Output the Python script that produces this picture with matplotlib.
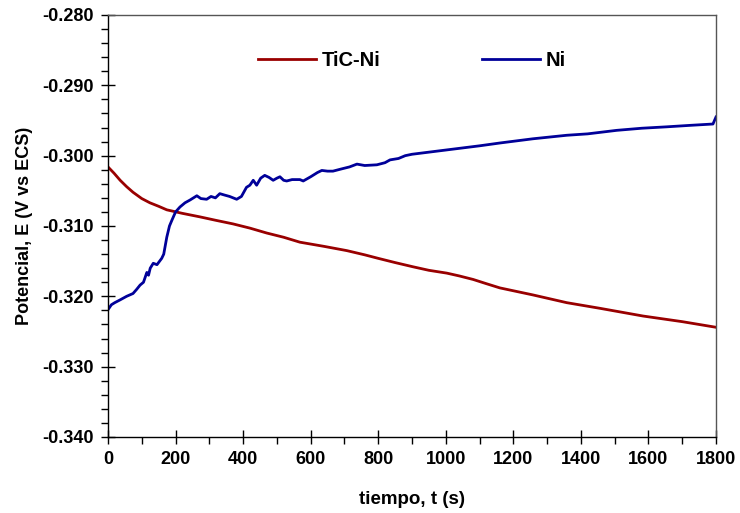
import matplotlib
matplotlib.use("Agg")
import matplotlib.pyplot as plt
from matplotlib.ticker import MultipleLocator, FormatStrFormatter

# Open circuit potential vs time
t_ticni = [0, 18, 36, 55, 74, 100, 124, 150, 174, 220, 272, 320, 370, 420, 470,
           520, 568, 640, 707, 760, 800, 850, 903, 950, 1003, 1040, 1081, 1120,
           1160, 1258, 1358, 1456, 1584, 1700, 1800]
e_ticni = [-0.3016, -0.3025, -0.3035, -0.3044, -0.3052, -0.3061, -0.3067, -0.3072,
           -0.3077, -0.3082, -0.3087, -0.3092, -0.3097, -0.3103, -0.3110, -0.3116,
           -0.3123, -0.3129, -0.3135, -0.3141, -0.3146, -0.3152, -0.3158, -0.3163,
           -0.3167, -0.3171, -0.3176, -0.3182, -0.3188, -0.3198, -0.3209, -0.3217,
           -0.3228, -0.3236, -0.3244]

t_ni = [0, 10, 20, 36, 55, 74, 85, 95, 105, 115, 120, 125, 134, 145, 159, 165, 174,
        182, 189, 200, 213, 228, 243, 263, 275, 292, 305, 318, 331, 345, 360, 381,
        395, 410, 420, 430, 440, 452, 464, 477, 489, 500, 509, 520, 529, 545, 568,
        578, 600, 620, 633, 650, 666, 690, 715, 737, 760, 796, 820, 835, 860, 880,
        900, 950, 1000, 1050, 1100, 1160, 1258, 1358, 1420, 1506, 1580, 1654, 1720,
        1791, 1800]
e_ni = [-0.3219, -0.3212, -0.3209, -0.3205, -0.3200, -0.3196, -0.3190, -0.3184,
        -0.3180, -0.3166, -0.3170, -0.3160, -0.3153, -0.3155, -0.3146, -0.3140,
        -0.3116, -0.3100, -0.3092, -0.3080, -0.3073, -0.3067, -0.3063, -0.3057,
        -0.3061, -0.3062, -0.3058, -0.3060, -0.3054, -0.3056, -0.3058, -0.3062,
        -0.3058, -0.3045, -0.3042, -0.3035, -0.3042, -0.3032, -0.3028, -0.3031,
        -0.3035, -0.3032, -0.3030, -0.3035, -0.3036, -0.3034, -0.3034, -0.3036,
        -0.3030, -0.3024, -0.3021, -0.3022, -0.3022, -0.3019, -0.3016, -0.3012,
        -0.3014, -0.3013, -0.3010, -0.3006, -0.3004, -0.3000, -0.2998, -0.2995,
        -0.2992, -0.2989, -0.2986, -0.2982, -0.2976, -0.2971, -0.2969, -0.2964,
        -0.2961, -0.2959, -0.2957, -0.2955, -0.2945]

plt.rcParams['font.family'] = ['Liberation Sans', 'DejaVu Sans']
plt.rcParams['font.weight'] = 'bold'

fig = plt.figure(figsize=(7.4, 5.13), dpi=100)
ax = fig.add_axes([108/740, 1 - 437/513, (716 - 108)/740, (437 - 15)/513])

ax.plot(t_ticni, e_ticni, color='#990000', lw=2, label='TiC-Ni')
ax.plot(t_ni, e_ni, color='#000099', lw=2, label='Ni')

ax.set_xlim(0, 1800)
ax.set_ylim(-0.340, -0.280)
ax.xaxis.set_major_locator(MultipleLocator(200))
ax.xaxis.set_minor_locator(MultipleLocator(100))
ax.yaxis.set_major_locator(MultipleLocator(0.01))
ax.yaxis.set_minor_locator(MultipleLocator(0.002))
ax.yaxis.set_major_formatter(FormatStrFormatter('%.3f'))

ax.tick_params(which='major', direction='inout', length=10, width=1, labelsize=13, pad=5)
ax.tick_params(which='minor', direction='out', length=5, width=1)
for s in ax.spines.values():
    s.set_linewidth(1)
ax.spines['right'].set_color('#555555')
ax.spines['top'].set_color('#555555')

ax.set_xlabel('tiempo, t (s)', fontsize=13.5, fontweight='bold', labelpad=17)
ax.set_ylabel('Potencial, E (V vs ECS)', fontsize=13, fontweight='bold', labelpad=7)

ax.legend(loc='center', bbox_to_anchor=(0.5, 0.893), ncol=2, frameon=False,
          fontsize=14.5, handlelength=2.9, handletextpad=0.3, columnspacing=5)

fig.savefig('out.png', dpi=100)
